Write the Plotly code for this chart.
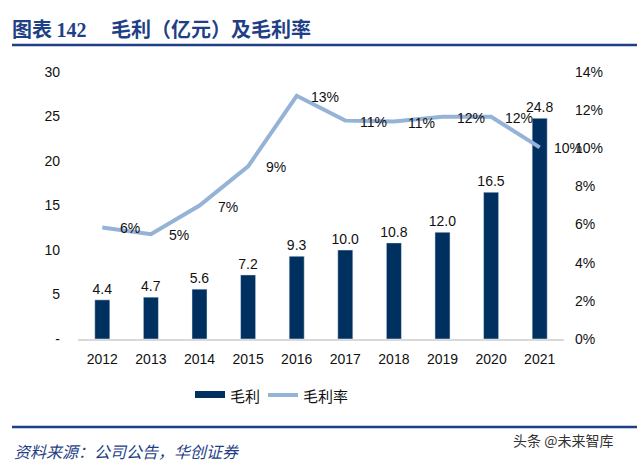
import plotly.graph_objects as go

years = ["2012", "2013", "2014", "2015", "2016", "2017", "2018", "2019", "2020", "2021"]
gross_profit = [4.4, 4.7, 5.6, 7.2, 9.3, 10.0, 10.8, 12.0, 16.5, 24.8]
gross_margin = [5.85, 5.5, 7.0, 9.05, 12.75, 11.45, 11.4, 11.65, 11.65, 10.05]
margin_labels = ["6%", "5%", "7%", "9%", "13%", "11%", "11%", "12%", "12%", "10%"]
left_ticks = [0, 5, 10, 15, 20, 25, 30]
left_labels = ["-", "5", "10", "15", "20", "25", "30"]
right_ticks = [0, 2, 4, 6, 8, 10, 12, 14]

bar_color = "#00305F"
line_color = "#95B3D7"
navy = "#1F3F86"
font_main = "Liberation Sans, Arial, Noto Sans CJK SC"

W, H = 640, 462
L, R, T, B = 78, 76, 72, 123
PW, PH = W - L - R, H - T - B


def px(x):
    return (x - L) / PW


def py(y):
    return 1 - (y - T) / PH


fig = go.Figure()
fig.add_trace(go.Bar(
    x=years, y=gross_profit, name="毛利", marker_color=bar_color,
    text=[f"{v:.1f}" for v in gross_profit], textposition="outside",
    constraintext="none",
    textfont=dict(size=14, color="#111111", family=font_main),
    cliponaxis=False, yaxis="y", showlegend=False,
))
fig.add_trace(go.Scatter(
    x=years, y=gross_margin, name="毛利率", mode="lines",
    line=dict(color=line_color, width=4),
    cliponaxis=False, yaxis="y2", showlegend=False,
))
for i, (v, lab) in enumerate(zip(gross_margin, margin_labels)):
    fig.add_annotation(x=i, y=v, xref="x", yref="y2", text=lab, showarrow=False,
                       xshift=28, yshift=-1,
                       font=dict(size=14, color="#111111", family=font_main))

fig.update_layout(
    width=W, height=H,
    margin=dict(l=L, r=R, t=T, b=B),
    paper_bgcolor="white", plot_bgcolor="white",
    bargap=0.69,
    showlegend=False,
    xaxis=dict(type="category", range=[-0.5, len(years) - 0.5], autorange=False,
               showgrid=False, showline=True, linecolor="#D9D9D9",
               linewidth=2, ticks="", ticklabelstandoff=6,
               tickfont=dict(size=14, family=font_main, color="#111111")),
    yaxis=dict(range=[0, 30], autorange=False, tickvals=left_ticks, ticktext=left_labels,
               showgrid=False, zeroline=False, showline=False, ticks="",
               tickfont=dict(size=14, family=font_main, color="#111111"),
               ticklabelstandoff=17),
    yaxis2=dict(range=[0, 14], autorange=False, tickvals=right_ticks,
                ticktext=[f"{t}%" for t in right_ticks],
                overlaying="y", side="right", showgrid=False, zeroline=False, showline=False,
                ticks="", tickfont=dict(size=14, family=font_main, color="#111111"),
                ticklabelstandoff=10),
)

# Custom legend
fig.add_shape(type="rect", xref="paper", yref="paper", x0=px(195), x1=px(225),
              y0=py(398), y1=py(391), fillcolor=bar_color, line=dict(width=0))
fig.add_annotation(xref="paper", yref="paper", x=px(228), y=py(395), xanchor="left",
                   yanchor="middle", showarrow=False, text="毛利",
                   font=dict(size=15, family="Noto Sans CJK SC", color="#111111"))
fig.add_shape(type="line", xref="paper", yref="paper", x0=px(268), x1=px(298),
              y0=py(395), y1=py(395), line=dict(color=line_color, width=4))
fig.add_annotation(xref="paper", yref="paper", x=px(301), y=py(395), xanchor="left",
                   yanchor="middle", showarrow=False, text="毛利率",
                   font=dict(size=15, family="Noto Sans CJK SC", color="#111111"))

# Header
fig.add_annotation(xref="paper", yref="paper", x=px(10), y=py(28), xanchor="left",
                   yanchor="middle", showarrow=False,
                   text="<b>图表 <span style='font-family:Liberation Serif'>142</span>　 毛利（亿元）及毛利率</b>",
                   font=dict(size=20, family="Noto Sans CJK SC", color=navy))
fig.add_shape(type="line", xref="paper", yref="paper", x0=px(12), x1=px(637),
              y0=py(45), y1=py(45), line=dict(color=navy, width=2.5))
# Footer
fig.add_shape(type="line", xref="paper", yref="paper", x0=px(12), x1=px(637),
              y0=py(427), y1=py(427), line=dict(color=navy, width=2.5))
fig.add_annotation(xref="paper", yref="paper", x=px(12), y=py(451), xanchor="left",
                   yanchor="middle", showarrow=False,
                   text="<i>资料来源：公司公告，华创证券</i>",
                   font=dict(size=16, family="Noto Sans CJK SC", color=navy))
fig.add_annotation(xref="paper", yref="paper", x=px(615), y=py(440), xanchor="right",
                   yanchor="middle", showarrow=False,
                   text="头条 @未来智库",
                   font=dict(size=14, family="Noto Sans CJK SC", color="#333333"))

fig.write_html("out.html", config={"displayModeBar": False},
               post_script="document.body.style.margin='0';")
